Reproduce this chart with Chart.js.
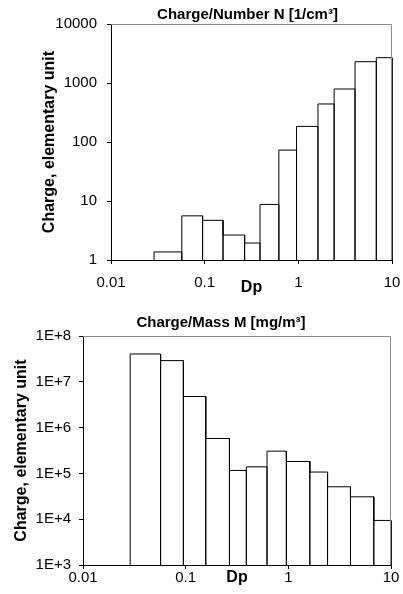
<!DOCTYPE html>
<html lang="en">
<head>
  <meta charset="UTF-8">
  <title>Charge per size class</title>
  <script src="https://cdn.jsdelivr.net/npm/chart.js"></script>
  <style>
    body {
      margin: 0;
      background: #FFFFFF;
    }

    .chart-box {
      position: relative;
      width: 403px;
      height: 297px;
    }
  </style>
</head>
<body>
  <div class="chart-box"><canvas id="numberChart"></canvas></div>
  <div class="chart-box"><canvas id="massChart"></canvas></div>

  <script>
    // stage boundaries, Dp in um (13 edges -> 12 bins)
    const binEdges = [0.0288, 0.057, 0.095, 0.157, 0.267, 0.39, 0.62, 0.957, 1.62, 2.41, 4.03, 6.8, 10];

    // charge per number concentration, elementary units
    const numberCharge = [1.37, 5.6, 4.7, 2.65, 1.94, 8.75, 73, 184, 441, 791, 2296, 2685];

    // charge per mass concentration, elementary units
    const massCharge = [4.05e7, 2.9e7, 4.77e6, 5.78e5, 1.16e5, 1.39e5, 3.06e5, 1.82e5, 1.07e5, 5.1e4, 3.08e4, 9.4e3];

    const xTicks = [0.01, 0.1, 1, 10];
    const xTickLabels = ['0.01', '0.1', '1', '10'];
    const numberTicks = [1, 10, 100, 1000, 10000];
    const numberTickLabels = ['1', '10', '100', '1000', '10000'];
    const massTicks = [1e3, 1e4, 1e5, 1e6, 1e7, 1e8];
    const massTickLabels = ['1E+3', '1E+4', '1E+5', '1E+6', '1E+7', '1E+8'];

    Chart.defaults.font.family = "'Liberation Sans', Arial, sans-serif";
    Chart.defaults.color = '#000';
    Chart.defaults.animation = false;

    // outline of every bar, from the baseline up and back down
    function histogramPoints(edges, values, base) {
      const pts = [];
      values.forEach((v, i) => {
        pts.push({ x: edges[i], y: base });
        pts.push({ x: edges[i], y: v });
        pts.push({ x: edges[i + 1], y: v });
        pts.push({ x: edges[i + 1], y: base });
      });
      return pts;
    }

    // grey top/right frame and the heading over the plot
    const framePlugin = {
      id: 'frame',
      afterDraw(chart, args, opts) {
        const { ctx, chartArea: a } = chart;
        ctx.save();
        ctx.strokeStyle = '#8C8C8C';
        ctx.lineWidth = 1;
        ctx.beginPath();
        ctx.moveTo(a.left, a.top + 0.5);
        ctx.lineTo(a.right - 0.5, a.top + 0.5);
        ctx.lineTo(a.right - 0.5, a.bottom);
        ctx.stroke();

        ctx.font = opts.font;
        ctx.fillStyle = '#000';
        ctx.textAlign = 'center';
        ctx.textBaseline = 'middle';
        ctx.fillText(opts.text, (a.left + a.right) / 2 + opts.shift, opts.y);
        ctx.restore();
      }
    };

    function makeChart(id, s) {
      return new Chart(document.getElementById(id), {
        type: 'scatter',
        data: {
          datasets: [{
            data: histogramPoints(binEdges, s.values, s.yTicks[0]),
            showLine: true,
            borderColor: '#000',
            borderWidth: 1,
            pointRadius: 0,
            fill: false,
            tension: 0,
            clip: false
          }]
        },
        options: {
          responsive: true,
          maintainAspectRatio: false,
          layout: { padding: s.padding },
          plugins: {
            legend: { display: false },
            tooltip: { enabled: false },
            frame: s.heading
          },
          scales: {
            x: {
              type: 'logarithmic',
              min: xTicks[0],
              max: xTicks[xTicks.length - 1],
              afterBuildTicks: sc => { sc.ticks = xTicks.map(v => ({ value: v })); },
              afterFit: sc => {
                sc.height = s.xHeight;
                sc.paddingLeft = 0;
                sc.paddingRight = 0;
              },
              ticks: {
                autoSkip: false,
                maxRotation: 0,
                padding: s.xPad,
                font: { size: 15 },
                callback: v => xTickLabels[xTicks.indexOf(v)]
              },
              grid: { drawOnChartArea: false, tickLength: 4, color: '#000' },
              border: { color: '#000' },
              title: {
                display: true,
                text: 'Dp',
                font: { size: 16, weight: 'bold' },
                padding: { top: 0, bottom: s.xTitlePad }
              }
            },
            y: {
              type: 'logarithmic',
              min: s.yTicks[0],
              max: s.yTicks[s.yTicks.length - 1],
              afterBuildTicks: sc => { sc.ticks = s.yTicks.map(v => ({ value: v })); },
              afterFit: sc => { sc.width = s.yWidth; },
              ticks: {
                autoSkip: false,
                padding: s.yPad,
                font: { size: 15 },
                callback: v => s.yLabels[s.yTicks.indexOf(v)]
              },
              grid: { drawOnChartArea: false, tickLength: 4, color: '#000' },
              border: { color: '#000' },
              title: {
                display: true,
                text: 'Charge, elementary unit',
                font: { size: 16, weight: 'bold' },
                padding: { top: 0, bottom: 0 }
              }
            }
          }
        },
        plugins: [framePlugin]
      });
    }

    makeChart('numberChart', {
      values: numberCharge,
      yTicks: numberTicks,
      yLabels: numberTickLabels,
      padding: { left: 40, right: 11, top: 24, bottom: 0 },
      yWidth: 71,
      yPad: 10,
      xHeight: 37,
      xPad: 10,
      xTitlePad: 0,
      heading: { text: 'Charge/Number N [1/cm³]', font: "bold 15px 'Liberation Sans', Arial, sans-serif", y: 14.5, shift: -4 }
    });

    makeChart('massChart', {
      values: massCharge,
      yTicks: massTicks,
      yLabels: massTickLabels,
      padding: { left: 12, right: 12, top: 39, bottom: 0 },
      yWidth: 71,
      yPad: 8,
      xHeight: 29,
      xPad: 0,
      xTitlePad: 7,
      heading: { text: 'Charge/Mass M [mg/m³]', font: "bold 15px 'Liberation Sans', Arial, sans-serif", y: 26, shift: -16 }
    });
  </script>
</body>
</html>
